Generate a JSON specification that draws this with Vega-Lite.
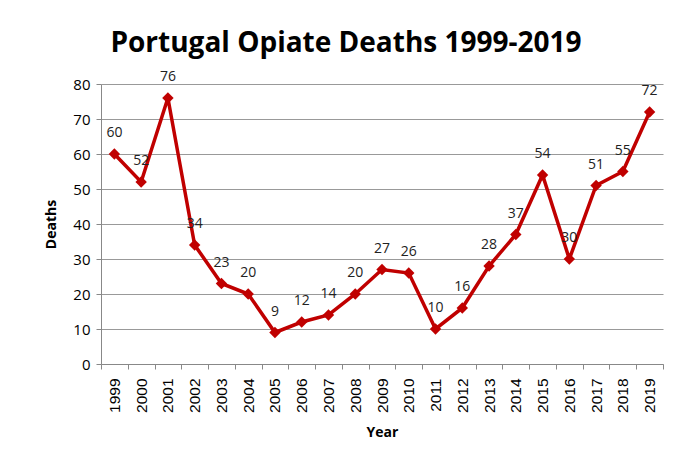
{
  "$schema": "https://vega.github.io/schema/vega-lite/v6.json",
  "width": 562,
  "height": 280,
  "autosize": {"type": "none"},
  "padding": {"left": 101, "top": 84, "right": 22, "bottom": 98},
  "background": "white",
  "title": {
    "text": "Portugal Opiate Deaths 1999-2019",
    "font": "Open Sans",
    "fontSize": 28,
    "fontWeight": "bold",
    "color": "#000000",
    "anchor": "middle",
    "frame": "group",
    "dx": -36,
    "offset": 12
  },
  "config": {
    "view": {"stroke": null},
    "font": "Open Sans"
  },
  "data": {
    "values": [
      {"Year": "1999", "Deaths": 60},
      {"Year": "2000", "Deaths": 52},
      {"Year": "2001", "Deaths": 76},
      {"Year": "2002", "Deaths": 34},
      {"Year": "2003", "Deaths": 23},
      {"Year": "2004", "Deaths": 20},
      {"Year": "2005", "Deaths": 9},
      {"Year": "2006", "Deaths": 12},
      {"Year": "2007", "Deaths": 14},
      {"Year": "2008", "Deaths": 20},
      {"Year": "2009", "Deaths": 27},
      {"Year": "2010", "Deaths": 26},
      {"Year": "2011", "Deaths": 10},
      {"Year": "2012", "Deaths": 16},
      {"Year": "2013", "Deaths": 28},
      {"Year": "2014", "Deaths": 37},
      {"Year": "2015", "Deaths": 54},
      {"Year": "2016", "Deaths": 30},
      {"Year": "2017", "Deaths": 51},
      {"Year": "2018", "Deaths": 55},
      {"Year": "2019", "Deaths": 72}
    ]
  },
  "encoding": {
    "x": {
      "field": "Year",
      "type": "ordinal",
      "scale": {"type": "band", "paddingInner": 0, "paddingOuter": 0},
      "axis": {
        "title": "Year",
        "titleFont": "Open Sans",
        "titleFontSize": 14,
        "titleFontWeight": "bold",
        "titleColor": "#000",
        "titlePadding": 13,
        "labelAngle": -90,
        "labelFont": "Liberation Sans",
        "labelFontSize": 15.5,
        "labelColor": "#000",
        "labelPadding": 9,
        "labelBaseline": "middle",
        "labelAlign": "right",
        "tickBand": "extent",
        "tickSize": 5,
        "tickColor": "#888",
        "domainColor": "#888",
        "domainWidth": 1,
        "grid": false
      }
    },
    "y": {
      "field": "Deaths",
      "type": "quantitative",
      "scale": {"domain": [0, 80], "nice": false},
      "axis": {
        "title": "Deaths",
        "titleFont": "Open Sans",
        "titleFontSize": 14,
        "titleFontWeight": "bold",
        "titleColor": "#000",
        "titlePadding": 14,
        "values": [0, 10, 20, 30, 40, 50, 60, 70, 80],
        "labelFontSize": 15,
        "labelColor": "#000",
        "labelPadding": 6,
        "tickSize": 5,
        "tickColor": "#888",
        "domainColor": "#888",
        "gridColor": "#999",
        "gridWidth": 1
      }
    }
  },
  "layer": [
    {
      "mark": {"type": "line", "color": "#C00000", "strokeWidth": 3.5}
    },
    {
      "mark": {"type": "point", "shape": "diamond", "filled": true, "color": "#C00000", "size": 130, "opacity": 1}
    },
    {
      "mark": {"type": "text", "baseline": "bottom", "dy": -14, "fontSize": 14, "color": "#222"},
      "encoding": {"text": {"field": "Deaths", "type": "quantitative"}}
    }
  ]
}
